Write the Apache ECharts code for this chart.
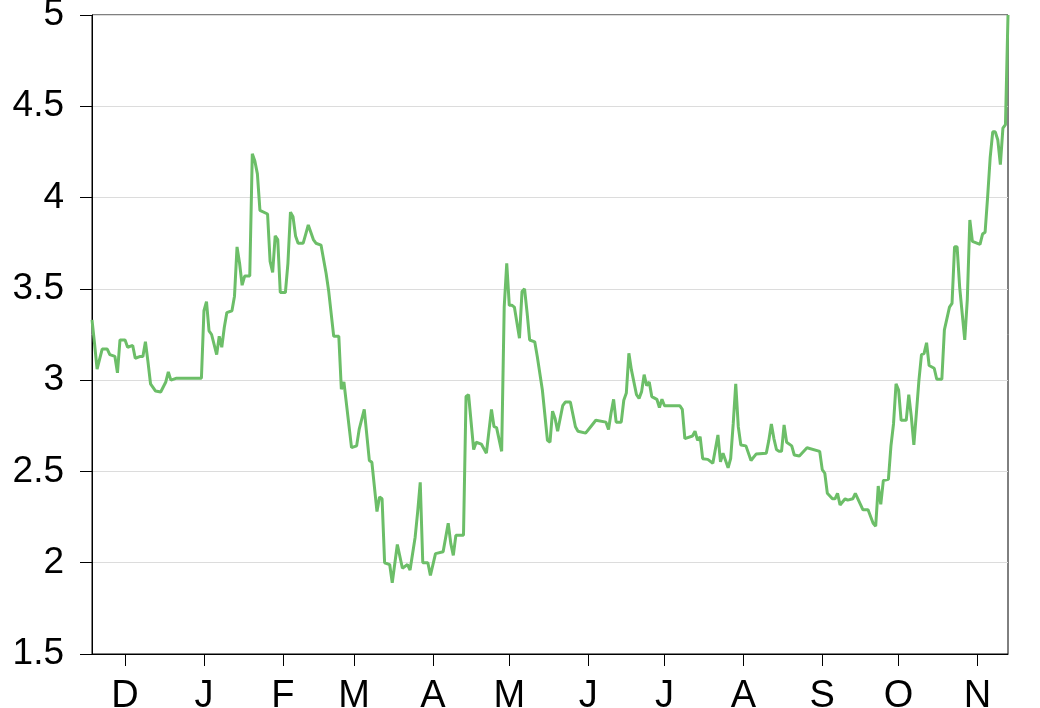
<!DOCTYPE html>
<html>
<head>
<meta charset="utf-8">
<script src="https://cdn.jsdelivr.net/npm/echarts@6/dist/echarts.min.js"></script>
<style>
  html, body { margin: 0; padding: 0; background: #fff; }
  #chart { width: 1040px; height: 708px; }
</style>
</head>
<body>
<div id="chart"></div>
<script>
// days counted from the first day on the axis (18 Nov 2020)
const startDate = '2020-11-18'
const lastDay = 360
const monthLetters = ['J', 'F', 'M', 'A', 'M', 'J', 'J', 'A', 'S', 'O', 'N', 'D']

const dayOffsets = [
  0, 1, 2, 4, 6, 7, 9, 10, 11, 13, 14, 16, 17, 19, 20, 21, 22, 23, 25, 27, 29, 30, 31, 33,
  43, 44, 45, 46, 47, 49, 50, 51, 52, 53, 55, 56, 57, 58, 59, 60, 62, 63, 64, 65, 66, 69,
  70, 71, 72, 73, 74, 76, 77, 78, 79, 80, 81, 83, 84, 85, 87, 88, 90, 92, 93, 95, 97, 98,
  99, 100, 102, 104, 105, 107, 109, 110, 112, 113, 114, 115, 117, 118, 120, 122, 124, 125,
  127, 128, 129, 130, 132, 133, 135, 138, 140, 141, 142, 143, 146, 147, 148, 150, 151, 153,
  155, 157, 158, 159, 161, 162, 163, 164, 165, 166, 168, 169, 170, 171, 172, 174, 175, 177,
  179, 180, 181, 182, 183, 185, 186, 188, 190, 191, 194, 196, 198, 202, 203, 204, 205, 206,
  208, 209, 210, 211, 212, 214, 215, 216, 217, 218, 219, 220, 222, 223, 224, 225, 231, 232,
  233, 236, 237, 238, 239, 240, 242, 244, 246, 247, 248, 250, 251, 252, 253, 254, 255, 257,
  259, 261, 265, 266, 267, 268, 269, 270, 271, 272, 273, 275, 276, 278, 281, 286, 287, 288,
  289, 291, 292, 293, 294, 296, 297, 299, 300, 302, 303, 305, 307, 308, 309, 310, 311, 313,
  314, 315, 316, 317, 318, 320, 321, 322, 323, 324, 325, 326, 327, 328, 329, 331, 332, 334,
  335, 337, 338, 339, 340, 341, 343, 344, 345, 346, 349, 350, 351, 352, 353, 354, 355, 356,
  357, 358, 359, 360
]

const values = [
  3.33, 3.2, 3.06, 3.17, 3.17, 3.14, 3.13, 3.04, 3.22, 3.22, 3.18, 3.19, 3.12, 3.13, 3.13, 3.21, 3.1, 2.98, 2.94, 2.935, 2.99, 3.045, 3.0, 3.01,
  3.01, 3.38, 3.43, 3.27, 3.25, 3.14, 3.24, 3.18, 3.29, 3.37, 3.38, 3.46, 3.73, 3.64, 3.52, 3.57, 3.57, 4.24, 4.2, 4.13, 3.93, 3.91,
  3.65, 3.59, 3.79, 3.77, 3.48, 3.48, 3.64, 3.92, 3.895, 3.79, 3.75, 3.75, 3.8, 3.85, 3.77, 3.75, 3.74, 3.585, 3.49, 3.24, 3.24, 2.95,
  2.99, 2.87, 2.63, 2.64, 2.73, 2.84, 2.56, 2.55, 2.28, 2.36, 2.35, 2.0, 1.99, 1.89, 2.1, 1.97, 1.99, 1.96,
  2.14, 2.28, 2.44, 2.0, 2.0, 1.93, 2.05, 2.06, 2.216, 2.106, 2.04, 2.15, 2.15, 2.91, 2.92, 2.62, 2.66, 2.65,
  2.6, 2.84, 2.745, 2.74, 2.61, 3.4, 3.64, 3.41, 3.41, 3.4, 3.23, 3.485, 3.5, 3.37, 3.22, 3.21, 3.13, 2.946,
  2.67, 2.66, 2.83, 2.79, 2.72, 2.86, 2.88, 2.88, 2.745, 2.72, 2.71, 2.745, 2.78, 2.77, 2.73, 2.82, 2.895, 2.77,
  2.77, 2.89, 2.93, 3.147, 3.056, 2.92, 2.9, 2.937, 3.03, 2.97, 2.99, 2.91, 2.895, 2.85, 2.895, 2.86, 2.86, 2.84,
  2.68, 2.694, 2.72, 2.67, 2.69, 2.57, 2.566, 2.545, 2.7, 2.553, 2.6, 2.52, 2.57, 2.76, 2.98, 2.745, 2.645, 2.64,
  2.56, 2.595, 2.6, 2.67, 2.76, 2.68, 2.62, 2.61, 2.61, 2.755, 2.66, 2.64, 2.59, 2.585, 2.63, 2.61, 2.51, 2.49,
  2.38, 2.35, 2.35, 2.38, 2.316, 2.35, 2.343, 2.35, 2.38, 2.32, 2.29, 2.29, 2.216, 2.2, 2.42, 2.32, 2.45, 2.457,
  2.64, 2.76, 2.98, 2.946, 2.78, 2.78, 2.92, 2.8, 2.645, 2.82, 3.0, 3.14, 3.145, 3.205, 3.08, 3.065, 3.005, 3.005,
  3.275, 3.4, 3.42, 3.73, 3.73, 3.51, 3.22, 3.44, 3.877, 3.76, 3.744, 3.8, 3.81, 4.005, 4.22, 4.36, 4.36, 4.315,
  4.18, 4.38, 4.4, 5.0
]

const yTicks = [1.5, 2, 2.5, 3, 3.5, 4, 4.5, 5]

const DAY = 24 * 3600 * 1000
const t0 = new Date(startDate + 'T00:00:00Z').getTime()
const points = dayOffsets.map((d, i) => [t0 + d * DAY, values[i]])

const chart = echarts.init(document.getElementById('chart'))
const font = 'Liberation Sans, Arial, sans-serif'

chart.setOption({
  useUTC: true,
  animation: false,
  grid: {
    left: 92,
    right: 32,
    top: 15,
    bottom: 54,
    outerBoundsMode: 'none',
    containLabel: false,
    show: true,
    borderColor: '#000',
    borderWidth: 1
  },
  xAxis: {
    type: 'time',
    min: t0,
    max: t0 + lastDay * DAY,
    minInterval: 28 * DAY,
    maxInterval: 31 * DAY,
    axisLine: { lineStyle: { color: '#000', width: 1 } },
    axisTick: { show: true, inside: false, length: 12, lineStyle: { color: '#000' } },
    splitLine: { show: false },
    axisLabel: {
      color: '#000',
      fontSize: 38,
      fontFamily: font,
      margin: 24,
      formatter: (v) => monthLetters[new Date(v).getUTCMonth()]
    }
  },
  yAxis: {
    type: 'value',
    min: yTicks[0],
    max: yTicks[yTicks.length - 1],
    interval: 0.5,
    axisLine: { show: true, lineStyle: { color: '#000', width: 1 } },
    axisTick: { show: true, inside: false, length: 12, lineStyle: { color: '#000' } },
    splitLine: { show: true, lineStyle: { color: '#dcdcdc', width: 1 } },
    axisLabel: {
      color: '#000',
      fontSize: 37,
      fontFamily: font,
      margin: 28
    }
  },
  series: [
    {
      type: 'line',
      data: points,
      showSymbol: false,
      lineStyle: { color: '#6cbe68', width: 3 },
      itemStyle: { color: '#6cbe68' }
    }
  ]
})
</script>
</body>
</html>
